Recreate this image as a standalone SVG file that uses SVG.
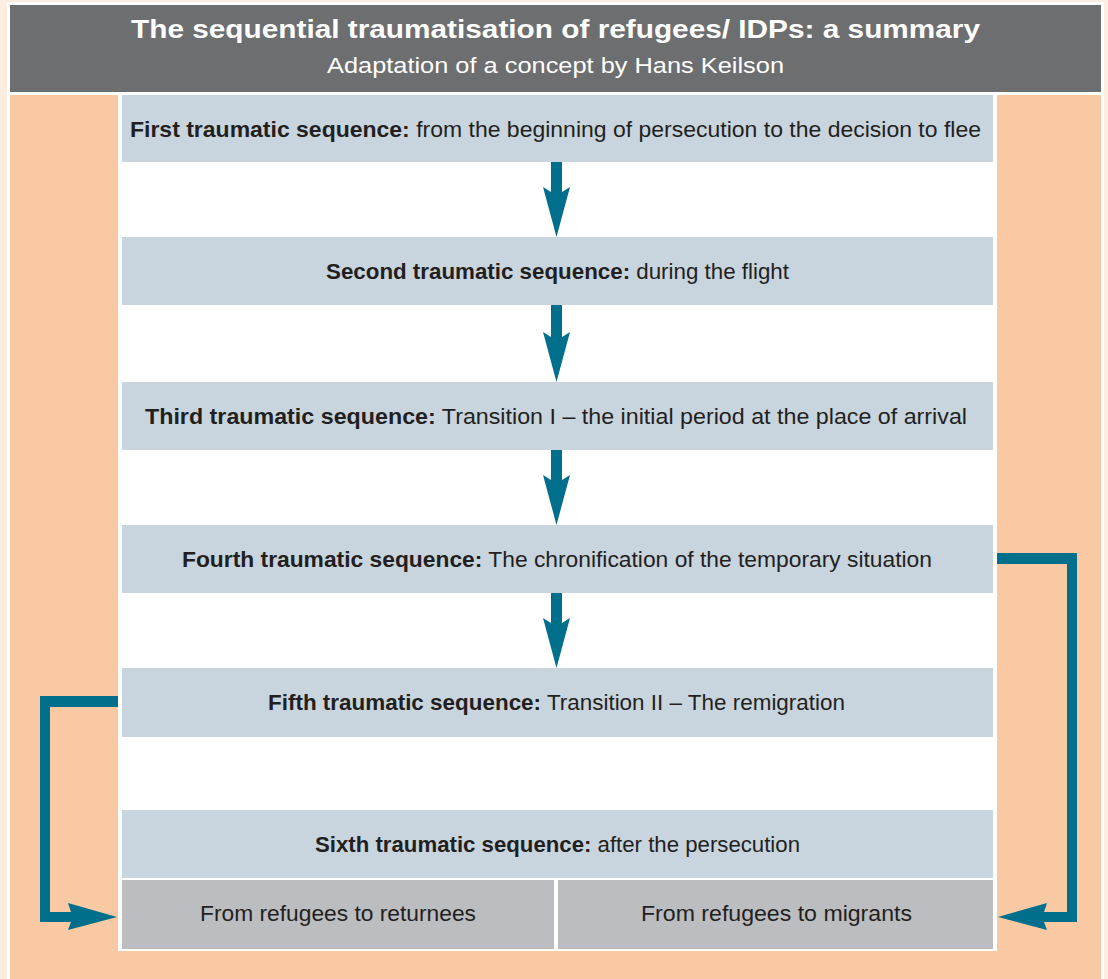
<svg xmlns="http://www.w3.org/2000/svg" width="1108" height="979" viewBox="0 0 1108 979">
<style>
.t{font-family:"Liberation Sans",Arial,sans-serif;fill:#231f20;font-size:22px}
.b{font-weight:bold}
.hd{font-family:"Liberation Sans",Arial,sans-serif;fill:#ffffff}
.box{fill:#c8d5de}
.gbox{fill:#bcbdc0}
.arr{fill:#006f8c}
</style>
<rect x="0" y="0" width="1108" height="979" fill="#fdece0"/>
<rect x="7" y="2" width="1097" height="977" fill="#ffffff"/>
<rect x="10" y="95" width="1091" height="884" fill="#f9c9a3"/>
<g id="header">
<rect x="10" y="5" width="1091" height="87" fill="#6d6e70"/>
<text class="hd" x="131" y="38" font-size="26" font-weight="bold" textLength="849" lengthAdjust="spacingAndGlyphs">The sequential traumatisation of refugees/ IDPs: a summary</text>
<text class="hd" x="327" y="73" font-size="22" textLength="457" lengthAdjust="spacingAndGlyphs">Adaptation of a concept by Hans Keilson</text>
</g>
<rect x="118" y="95" width="879" height="856" fill="#ffffff"/>
<g id="seq1">
<rect class="box" x="122" y="95" width="871" height="67"/>
<text class="t" x="130" y="137" textLength="851" lengthAdjust="spacingAndGlyphs"><tspan class="b">First traumatic sequence:</tspan> from the beginning of persecution to the decision to flee</text>
</g>
<g id="seq2">
<rect class="box" x="122" y="237" width="871" height="68"/>
<text class="t" x="326" y="279" textLength="463" lengthAdjust="spacingAndGlyphs"><tspan class="b">Second traumatic sequence:</tspan> during the flight</text>
</g>
<g id="seq3">
<rect class="box" x="122" y="382" width="871" height="68"/>
<text class="t" x="145" y="424" textLength="822" lengthAdjust="spacingAndGlyphs"><tspan class="b">Third traumatic sequence:</tspan> Transition I – the initial period at the place of arrival</text>
</g>
<g id="seq4">
<rect class="box" x="122" y="525" width="871" height="68"/>
<text class="t" x="182" y="567" textLength="750" lengthAdjust="spacingAndGlyphs"><tspan class="b">Fourth traumatic sequence:</tspan> The chronification of the temporary situation</text>
</g>
<g id="seq5">
<rect class="box" x="122" y="668" width="871" height="69"/>
<text class="t" x="268" y="710" textLength="577" lengthAdjust="spacingAndGlyphs"><tspan class="b">Fifth traumatic sequence:</tspan> Transition II – The remigration</text>
</g>
<g id="seq6">
<rect class="box" x="122" y="810" width="871" height="68"/>
<text class="t" x="315" y="852" textLength="485" lengthAdjust="spacingAndGlyphs"><tspan class="b">Sixth traumatic sequence:</tspan> after the persecution</text>
</g>
<g id="returnees">
<rect class="gbox" x="122" y="880" width="432" height="69"/>
<text class="t" x="200" y="921" textLength="276" lengthAdjust="spacingAndGlyphs">From refugees to returnees</text>
</g>
<g id="migrants">
<rect class="gbox" x="558" y="880" width="435" height="69"/>
<text class="t" x="641" y="921" textLength="271" lengthAdjust="spacingAndGlyphs">From refugees to migrants</text>
</g>
<g id="connectors">
<polygon class="arr" points="551,162 562,162 562,192 570,187 556.5,237 543,187 551,192"/>
<polygon class="arr" points="551,305 562,305 562,337 570,332 556.5,382 543,332 551,337"/>
<polygon class="arr" points="551,450 562,450 562,480 570,475 556.5,525 543,475 551,480"/>
<polygon class="arr" points="551,593 562,593 562,623 570,618 556.5,668 543,618 551,623"/>
<polygon class="arr" points="997,553 1077,553 1077,922 1044,922 1047,930 998,917 1047,903 1044,912 1067,912 1067,564 997,564"/>
<polygon class="arr" points="118,696 40,696 40,922 71,922 68,930 117,917 68,903 71,912 50,912 50,707 118,707"/>
</g>
</svg>
